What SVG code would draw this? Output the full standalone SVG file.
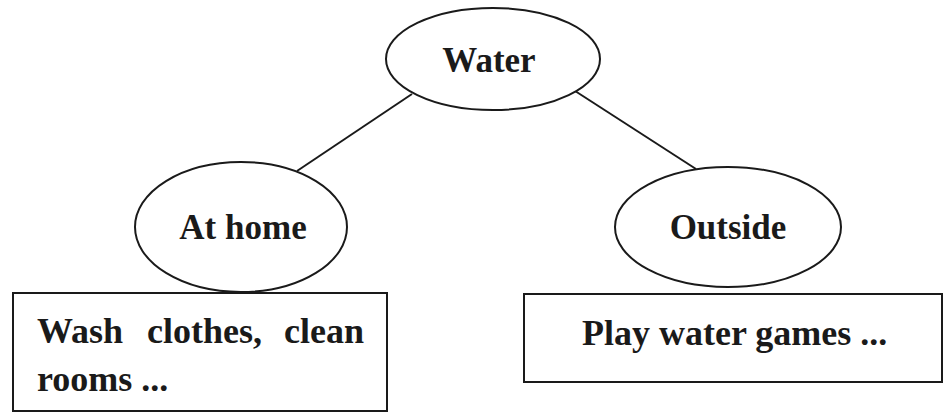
<svg xmlns="http://www.w3.org/2000/svg" width="952" height="415" viewBox="0 0 952 415">
<style>
.shape{fill:#fff;stroke:#1a1a1a;stroke-width:2}
.conn{stroke:#1a1a1a;stroke-width:2;fill:none}
.lbl{font-family:"Liberation Serif","Times New Roman",serif;font-weight:bold;fill:#1a1a1a}
.big{font-size:35px}
.box{font-size:36px}
</style>
<rect width="952" height="415" fill="#fff"/>
<g id="connectors">
<line class="conn" x1="412" y1="94" x2="297" y2="171"/>
<line class="conn" x1="572" y1="89" x2="696" y2="169"/>
</g>
<g id="water">
<ellipse class="shape" cx="493" cy="59" rx="107" ry="51"/>
<text class="lbl big" x="489" y="72" text-anchor="middle">Water</text>
</g>
<g id="athome">
<ellipse class="shape" cx="241" cy="227" rx="106" ry="65"/>
<text class="lbl big" x="243" y="239" text-anchor="middle">At home</text>
</g>
<g id="outside">
<ellipse class="shape" cx="728" cy="227" rx="113" ry="60"/>
<text class="lbl big" x="728" y="239" text-anchor="middle">Outside</text>
</g>
<g id="home-box">
<rect class="shape" x="13" y="293" width="374" height="118"/>
<text class="lbl box" y="343"><tspan x="37">Wash</tspan><tspan x="147">clothes,</tspan><tspan x="364" text-anchor="end">clean</tspan></text>
<text class="lbl box" x="37" y="391">rooms ...</text>
</g>
<g id="outside-box">
<rect class="shape" x="524" y="294" width="418" height="88"/>
<text class="lbl box" x="582" y="345">Play water games ...</text>
</g>
</svg>
